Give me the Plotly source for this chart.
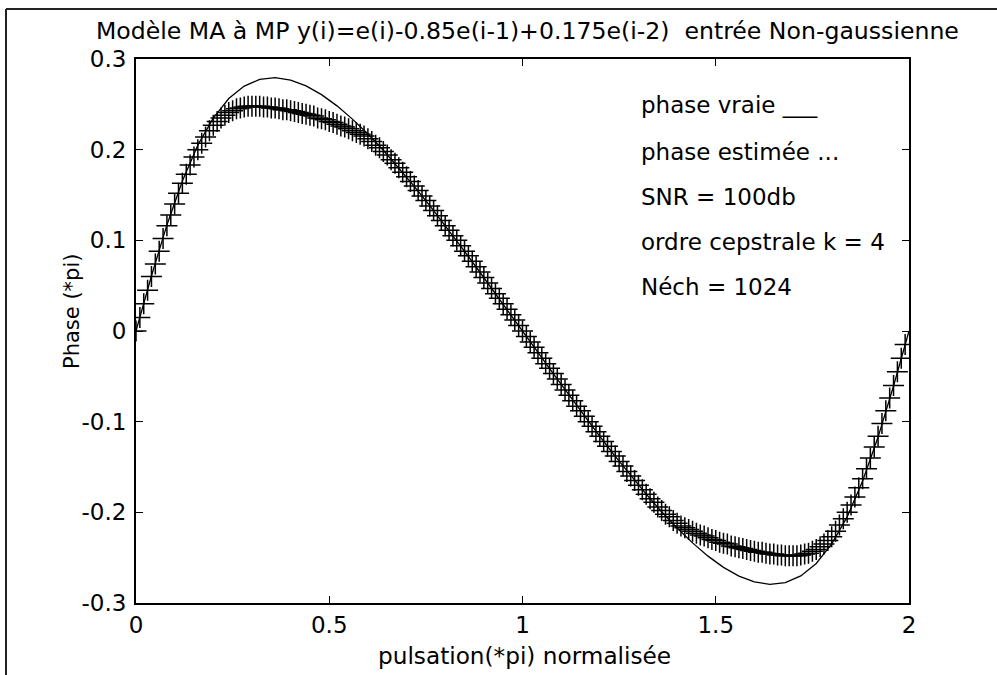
import numpy as np
import plotly.graph_objects as go

# ---------------- data ----------------
x_true = np.linspace(0, 2, 51)
phase_true = [0.0000, 0.0607, 0.1170, 0.1655, 0.2050, 0.2348, 0.2564, 0.2701, 0.2775, 0.2794,
              0.2768, 0.2703, 0.2607, 0.2483, 0.2337, 0.2173, 0.1993, 0.1799, 0.1596, 0.1382,
              0.1163, 0.0937, 0.0706, 0.0473, 0.0237, 0.0000,
              -0.0237, -0.0473, -0.0706, -0.0937, -0.1163, -0.1382, -0.1596, -0.1799, -0.1993,
              -0.2173, -0.2337, -0.2483, -0.2607, -0.2703, -0.2768, -0.2794, -0.2775, -0.2701,
              -0.2564, -0.2348, -0.2050, -0.1655, -0.1170, -0.0607, 0.0000]

x_est = np.linspace(0, 1.99, 200)
phase_est = [
    0.000, 0.015, 0.030, 0.045, 0.060, 0.074, 0.088, 0.102, 0.116, 0.128,
    0.140, 0.152, 0.163, 0.173, 0.183, 0.192, 0.200, 0.207, 0.214, 0.221,
    0.227, 0.231, 0.235, 0.238, 0.241, 0.243, 0.245, 0.246, 0.247, 0.248,
    0.248, 0.248, 0.248, 0.247, 0.247, 0.246, 0.246, 0.245, 0.244, 0.244,
    0.243, 0.242, 0.241, 0.240, 0.239, 0.238, 0.237, 0.235, 0.234, 0.233,
    0.231, 0.230, 0.228, 0.226, 0.225, 0.223, 0.221, 0.219, 0.217, 0.215,
    0.212, 0.209, 0.205, 0.202, 0.198, 0.194, 0.189, 0.185, 0.180, 0.175,
    0.170, 0.165, 0.160, 0.155, 0.149, 0.144, 0.138, 0.133, 0.127, 0.122,
    0.116, 0.111, 0.105, 0.100, 0.094, 0.088, 0.083, 0.077, 0.071, 0.065,
    0.059, 0.053, 0.047, 0.041, 0.036, 0.030, 0.024, 0.018, 0.012, 0.006,
    0.000,
    -0.006, -0.012, -0.018, -0.024, -0.030, -0.036, -0.041, -0.047, -0.053, -0.059,
    -0.065, -0.071, -0.077, -0.083, -0.088, -0.094, -0.100, -0.105, -0.111, -0.116,
    -0.122, -0.127, -0.133, -0.138, -0.144, -0.149, -0.155, -0.160, -0.165, -0.170,
    -0.175, -0.180, -0.185, -0.189, -0.194, -0.198, -0.202, -0.205, -0.209, -0.212,
    -0.215, -0.217, -0.219, -0.221, -0.223, -0.225, -0.226, -0.228, -0.230, -0.231,
    -0.233, -0.234, -0.235, -0.237, -0.238, -0.239, -0.240, -0.241, -0.242, -0.243,
    -0.244, -0.244, -0.245, -0.246, -0.246, -0.247, -0.247, -0.248, -0.248, -0.248,
    -0.248, -0.247, -0.246, -0.245, -0.243, -0.241, -0.238, -0.235, -0.231, -0.227,
    -0.221, -0.214, -0.207, -0.200, -0.192, -0.183, -0.173, -0.163, -0.152, -0.140,
    -0.128, -0.116, -0.102, -0.088, -0.074, -0.060, -0.045, -0.030, -0.015]

x_tickvals = [0, 0.5, 1, 1.5, 2]
x_ticktext = ["0", "0.5", "1", "1.5", "2"]
y_tickvals = [-0.3, -0.2, -0.1, 0, 0.1, 0.2, 0.3]
y_ticktext = ["-0.3", "-0.2", "-0.1", "0", "0.1", "0.2", "0.3"]

title_text = "Modèle MA à MP y(i)=e(i)-0.85e(i-1)+0.175e(i-2)\u00a0 entrée Non-gaussienne"
xlabel = "pulsation(*pi) normalisée"
ylabel = "Phase (*pi)"
info_lines = ["phase vraie ___", "phase estimée ...", "SNR = 100db",
              "ordre cepstrale k = 4", "Néch = 1024"]
info_y = [0.249, 0.197, 0.148, 0.098, 0.049]

FONT = "DejaVu Sans, Liberation Sans, Arial, sans-serif"

# ---------------- figure ----------------
W, H = 997, 675
L, R, T, B = 136, 88, 59, 72
pw, ph = W - L - R, H - T - B


def px(xp):
    return (xp - L) / pw


def py(yp):
    return (H - B - yp) / ph


fig = go.Figure()
fig.add_trace(go.Scatter(x=x_true, y=phase_true, mode="lines",
                         line=dict(color="black", width=1.3), showlegend=False))
fig.add_trace(go.Scatter(x=x_est, y=phase_est, mode="markers",
                         marker=dict(symbol="cross-thin-open", size=15, color="black",
                                     line=dict(color="black", width=1.5)),
                         showlegend=False))

for txt, yy in zip(info_lines, info_y):
    fig.add_annotation(x=1.301, y=yy, xref="x", yref="y", text=txt, showarrow=False,
                       xanchor="left", yanchor="middle",
                       font=dict(family=FONT, size=23, color="black"))

fig.add_annotation(x=px(527), y=py(31), xref="paper", yref="paper", text=title_text,
                   showarrow=False, xanchor="center", yanchor="middle",
                   font=dict(family=FONT, size=23.6, color="black"))
fig.add_annotation(x=px(524), y=py(655), xref="paper", yref="paper", text=xlabel,
                   showarrow=False, xanchor="center", yanchor="middle",
                   font=dict(family=FONT, size=23.2, color="black"))
fig.add_annotation(x=px(72), y=py(312), xref="paper", yref="paper", text=ylabel,
                   showarrow=False, xanchor="center", yanchor="middle", textangle=-90,
                   font=dict(family=FONT, size=21, color="black"))

# outer frame (top and left borders)
fig.add_shape(type="line", xref="paper", yref="paper", x0=px(6), x1=px(997), y0=py(9), y1=py(9),
              line=dict(color="#222222", width=2))
fig.add_shape(type="line", xref="paper", yref="paper", x0=px(6), x1=px(6), y0=py(9), y1=py(675),
              line=dict(color="#222222", width=2))

axis_common = dict(showline=True, linecolor="black", linewidth=2, mirror="allticks",
                   ticks="inside", ticklen=7, tickwidth=1.2, tickcolor="black",
                   showgrid=False, zeroline=False,
                   tickfont=dict(family=FONT, size=23, color="black"))
fig.update_xaxes(range=[0, 2], tickvals=x_tickvals, ticktext=x_ticktext,
                 ticklabelstandoff=0, **axis_common)
fig.update_yaxes(range=[-0.3, 0.3], tickvals=y_tickvals, ticktext=y_ticktext,
                 ticklabelstandoff=3, **axis_common)

fig.update_layout(width=W, height=H, margin=dict(l=L, r=R, t=T, b=B, autoexpand=False),
                  paper_bgcolor="white", plot_bgcolor="white", showlegend=False)

fig.write_html("out.html")
